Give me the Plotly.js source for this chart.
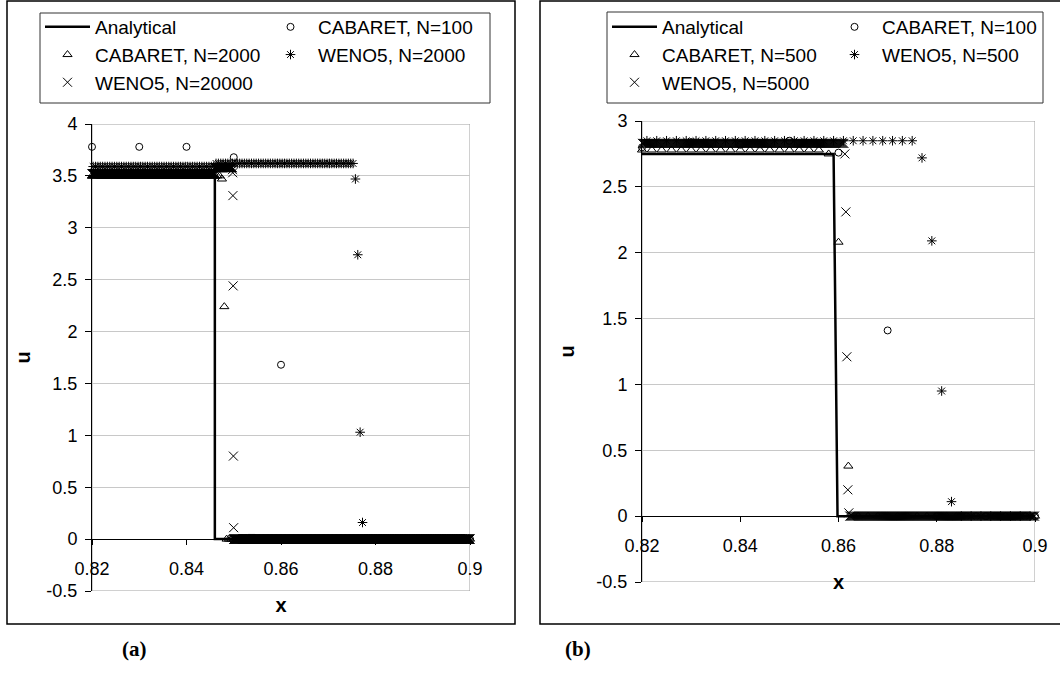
<!DOCTYPE html>
<html><head><meta charset="utf-8">
<script src="https://cdn.plot.ly/plotly-3.0.1.min.js"></script>
<style>html,body{margin:0;padding:0;background:#fff}#chart{width:1060px;height:679px}</style>
</head><body><div id="chart"></div>
<script>
const W = 1060, H = 679;

// ---------------- Panel (a) data ----------------
const a_analytical_x = [0.82, 0.846, 0.846, 0.9];
const a_analytical_u = [3.5, 3.5, 0, 0];

const a_cab100_x = [0.82, 0.83, 0.84, 0.85, 0.86, 0.87, 0.88, 0.89, 0.9];
const a_cab100_u = [3.78, 3.78, 3.78, 3.68, 1.68, 0, 0, 0, 0];

// CABARET N=2000 (grid nodes k/2000): plateaus [from, to, u] and the shock points
const a_cab2000_runs = [[0.82, 0.847, 3.5], [0.8485, 0.9, 0]];
const a_cab2000_shock_x = [0.8475, 0.848];
const a_cab2000_shock_u = [3.47, 2.24];

// WENO5 N=2000 (cell centres)
const a_weno2000_runs = [[0.82, 0.846, 3.59], [0.846, 0.8755, 3.62], [0.8775, 0.9, 0]];
const a_weno2000_shock_x = [0.87575, 0.87625, 0.87675, 0.87725];
const a_weno2000_shock_u = [3.47, 2.74, 1.03, 0.16];

// WENO5 N=20000 (cell centres)
const a_weno20000_runs = [[0.82, 0.846, 3.52], [0.846, 0.8497, 3.58], [0.85, 0.9, 0]];
const a_weno20000_shock_x = [0.849725, 0.849775, 0.849825, 0.849875, 0.849925, 0.849975];
const a_weno20000_shock_u = [3.56, 3.53, 3.31, 2.44, 0.80, 0.11];

// ---------------- Panel (b) data ----------------
const b_analytical_x = [0.82, 0.859, 0.8598, 0.9];
const b_analytical_u = [2.75, 2.75, 0, 0];

const b_cab100_x = [0.82, 0.83, 0.84, 0.85, 0.86, 0.87, 0.88, 0.89, 0.9];
const b_cab100_u = [2.8, 2.84, 2.82, 2.85, 2.76, 1.41, 0, 0, 0];

// CABARET N=500 (grid nodes k/500)
const b_cab500_runs = [[0.82, 0.8565, 2.78], [0.8635, 0.9, 0]];
const b_cab500_shock_x = [0.858, 0.86, 0.862];
const b_cab500_shock_u = [2.75, 2.08, 0.38];

// WENO5 N=500 (cell centres)
const b_weno500_runs = [[0.82, 0.8755, 2.85], [0.884, 0.9, 0]];
const b_weno500_shock_x = [0.877, 0.879, 0.881, 0.883];
const b_weno500_shock_u = [2.72, 2.09, 0.95, 0.11];

// WENO5 N=5000 (cell centres)
const b_weno5000_runs = [[0.82, 0.8612, 2.83], [0.8622, 0.9, 0]];
const b_weno5000_shock_x = [0.8613, 0.8615, 0.8617, 0.8619, 0.8621];
const b_weno5000_shock_u = [2.75, 2.31, 1.21, 0.20, 0.025];

// ---------------- Tick labels ----------------
const xTickVals = [0.82, 0.84, 0.86, 0.88, 0.9];
const xTickText = ['0.82', '0.84', '0.86', '0.88', '0.9'];
const yTickVals_a = [-0.5, 0, 0.5, 1, 1.5, 2, 2.5, 3, 3.5, 4];
const yTickText_a = ['-0.5', '0', '0.5', '1', '1.5', '2', '2.5', '3', '3.5', '4'];
const yTickVals_b = [-0.5, 0, 0.5, 1, 1.5, 2, 2.5, 3];
const yTickText_b = ['-0.5', '0', '0.5', '1', '1.5', '2', '2.5', '3'];

const names_a = ['Analytical', 'CABARET, N=100', 'CABARET, N=2000', 'WENO5, N=2000', 'WENO5, N=20000'];
const names_b = ['Analytical', 'CABARET, N=100', 'CABARET, N=500', 'WENO5, N=500', 'WENO5, N=5000'];

// sample plateaus on the scheme's grid (nodes or cell centres) and add the read shock points
function gridSeries(N, centred, runs, sx, su) {
  const dx = 1 / N, off = centred ? 0.5 : 0;
  const pts = [];
  runs.forEach(([a, b, u]) => {
    const k0 = Math.ceil(a / dx - off - 1e-6), k1 = Math.floor(b / dx - off + 1e-6);
    for (let k = k0; k <= k1; k++) pts.push([(k + off) * dx, u]);
  });
  sx.forEach((x, i) => pts.push([x, su[i]]));
  pts.sort((p, q) => p[0] - q[0]);
  return {x: pts.map(p => p[0]), y: pts.map(p => p[1])};
}

const FONT = 'Liberation Sans, Arial, sans-serif';
const px = v => v / W, py = v => 1 - v / H;

const mk = {
  circle: {symbol: 'circle-open', size: 7, color: '#000', line: {width: 1, color: '#000'}},
  tri: {symbol: 'triangle-up-open', size: 8, color: '#000', line: {width: 1, color: '#000'}},
  star: {symbol: 'asterisk-open', size: 8, color: '#000', line: {width: 1, color: '#000'}},
  cross: {symbol: 'x-thin-open', size: 9, color: '#000', line: {width: 1, color: '#000'}}
};

function panel(xa, ya, legL, legR, names, an_x, an_u, c100x, c100u, s1, s2, s3) {
  return [
    {x: an_x, y: an_u, mode: 'lines', line: {color: '#000', width: 2.5}, name: names[0], legend: legL},
    {x: c100x, y: c100u, mode: 'markers', marker: mk.circle, name: names[1], legend: legR},
    {x: s1.x, y: s1.y, mode: 'markers', marker: mk.tri, name: names[2], legend: legL},
    {x: s2.x, y: s2.y, mode: 'markers', marker: mk.star, name: names[3], legend: legR},
    {x: s3.x, y: s3.y, mode: 'markers', marker: mk.cross, name: names[4], legend: legL}
  ].map(t => Object.assign(t, {type: 'scatter', xaxis: xa, yaxis: ya, cliponaxis: false, hoverinfo: 'skip'}));
}

const traces = [].concat(
  panel('x', 'y', 'legend', 'legend2', names_a, a_analytical_x, a_analytical_u, a_cab100_x, a_cab100_u,
    gridSeries(2000, false, a_cab2000_runs, a_cab2000_shock_x, a_cab2000_shock_u),
    gridSeries(2000, true, a_weno2000_runs, a_weno2000_shock_x, a_weno2000_shock_u),
    gridSeries(20000, true, a_weno20000_runs, a_weno20000_shock_x, a_weno20000_shock_u)),
  panel('x2', 'y2', 'legend3', 'legend4', names_b, b_analytical_x, b_analytical_u, b_cab100_x, b_cab100_u,
    gridSeries(500, false, b_cab500_runs, b_cab500_shock_x, b_cab500_shock_u),
    gridSeries(500, true, b_weno500_runs, b_weno500_shock_x, b_weno500_shock_u),
    gridSeries(5000, true, b_weno5000_runs, b_weno5000_shock_x, b_weno5000_shock_u))
);

const tickFont = {family: FONT, size: 18, color: '#000'};
const titleFont = {family: FONT, size: 20, color: '#000', weight: 'bold'};

function xAxis(domain, pos) {
  return {domain: domain, range: [0.82, 0.9], anchor: 'free', position: pos,
    tickvals: xTickVals, ticktext: xTickText, ticks: 'outside', ticklen: 5, tickcolor: '#000',
    ticklabelstandoff: 8, showline: true, linecolor: '#000', linewidth: 1, showgrid: false,
    zeroline: false, tickfont: tickFont, fixedrange: true,
    title: {text: 'x', font: titleFont, standoff: 20}};
}
function yAxis(domain, range, tv, tt, anchor, standoff) {
  return {domain: domain, range: range, anchor: anchor, tickvals: tv, ticktext: tt,
    ticks: 'outside', ticklen: 6, tickcolor: '#000', ticklabelstandoff: 4,
    showline: true, linecolor: '#000', linewidth: 1, showgrid: true, gridcolor: '#c8c8c8', gridwidth: 1,
    zeroline: false, tickfont: tickFont, fixedrange: true,
    title: {text: 'u', font: titleFont, standoff: standoff}};
}

function legendCfg(xpix, ypix) {
  return {x: px(xpix), y: py(ypix), xanchor: 'left', yanchor: 'top', orientation: 'v',
    bgcolor: 'rgba(0,0,0,0)', borderwidth: 0, itemwidth: 45, tracegroupgap: 0,
    font: {family: FONT, size: 19, color: '#000'}, itemclick: false, itemdoubleclick: false};
}

function rectPaper(x0, y0, x1, y1, color, width) {
  return {type: 'rect', xref: 'paper', yref: 'paper', x0: px(x0), x1: px(x1), y0: py(y1), y1: py(y0),
    line: {color: color, width: width}, fillcolor: 'rgba(0,0,0,0)', layer: 'above'};
}

const labelFont = {family: 'Liberation Serif, Times New Roman, serif', size: 21, color: '#000', weight: 'bold'};

const layout = {
  width: W, height: H, margin: {l: 0, r: 0, t: 0, b: 0},
  paper_bgcolor: '#fff', plot_bgcolor: 'rgba(0,0,0,0)',
  showlegend: true,
  xaxis: xAxis([px(92), px(470)], py(539)),
  yaxis: yAxis([py(591), py(124)], [-0.5, 4], yTickVals_a, yTickText_a, 'x', 10),
  xaxis2: xAxis([px(642), px(1035)], py(516)),
  yaxis2: yAxis([py(582), py(121)], [-0.5, 3], yTickVals_b, yTickText_b, 'x2', 16),
  legend: legendCfg(40, 8),
  legend2: legendCfg(263, 8),
  legend3: legendCfg(607, 8),
  legend4: legendCfg(827, 8),
  shapes: [
    rectPaper(7, 1, 515, 624, '#000', 1.5),
    rectPaper(540, 1, 1062, 624, '#000', 1.5),
    rectPaper(40, 13, 490, 103, '#333', 1),
    rectPaper(607, 12, 1043, 103, '#333', 1),
    {type: 'rect', xref: 'x', yref: 'y', x0: 0.82, x1: 0.9, y0: -0.5, y1: 4, line: {color: '#a0a0a0', width: 1}, layer: 'below'},
    {type: 'rect', xref: 'x2', yref: 'y2', x0: 0.82, x1: 0.9, y0: -0.5, y1: 3, line: {color: '#a0a0a0', width: 1}, layer: 'below'}
  ],
  annotations: [
    {text: '(a)', xref: 'paper', yref: 'paper', x: px(120), y: py(663), showarrow: false, font: labelFont},
    {text: '(b)', xref: 'paper', yref: 'paper', x: px(578), y: py(663), showarrow: false, font: labelFont}
  ]
};

Plotly.newPlot('chart', traces, layout, {staticPlot: true, displayModeBar: false});
</script>
</body></html>
